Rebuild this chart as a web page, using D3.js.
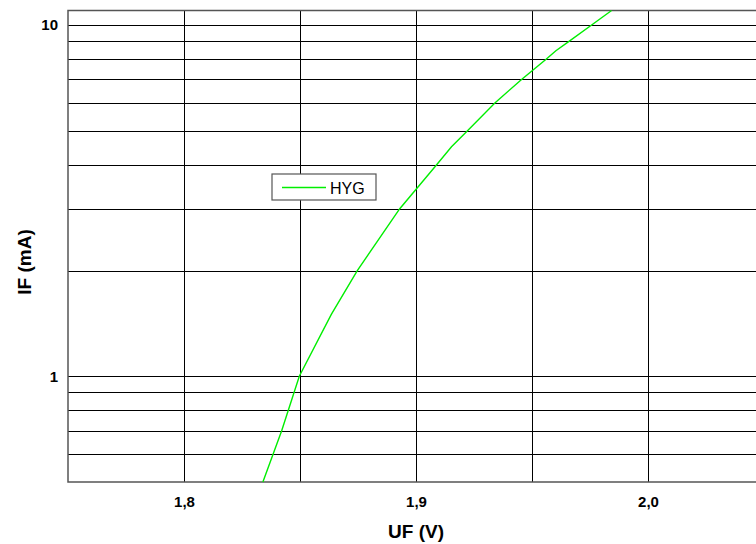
<!DOCTYPE html>
<html>
<head>
<meta charset="utf-8">
<script src="https://cdn.jsdelivr.net/npm/d3@7"></script>
<style>
  body { margin: 0; background: #fff; }
  svg { display: block; font-family: "Liberation Sans", Arial, Helvetica, sans-serif; }
</style>
</head>
<body>
<script>
// forward characteristic
var voltage = [1.834, 1.8421, 1.8497, 1.8635, 1.8747, 1.893, 1.9089, 1.9153, 1.9222, 1.934, 1.9455, 1.9562, 1.9603, 1.9661, 1.9757, 1.9843];
var current = [0.5, 0.7, 1, 1.5, 2, 3, 4, 4.5, 5, 6, 7, 8, 8.45, 9, 10, 11];
var seriesName = "HYG";

var xGrid = [1.8, 1.85, 1.9, 1.95, 2.0];
var xLabels = [1.8, 1.9, 2.0];
var yGrid = [0.6, 0.7, 0.8, 0.9, 1, 2, 3, 4, 5, 6, 7, 8, 9, 10];
var yLabels = [1, 10];

var margin = {top: 10.5, right: -8, bottom: 62, left: 68},
    width = 756 - margin.left - margin.right,
    height = 544 - margin.top - margin.bottom;

var svg = d3.select("body").append("svg")
    .attr("width", 756)
    .attr("height", 544);

var g = svg.append("g")
    .attr("transform", "translate(" + margin.left + "," + margin.top + ")");

var x = d3.scaleLinear().domain([1.75, 2.05]).range([0, width]);
var y = d3.scaleLog().domain([0.5, 11]).range([height, 0]);

var fmt = d3.formatLocale({decimal: ",", thousands: ".", grouping: [3], currency: ["", ""]}).format(".1f");

// x grid + labels
var xAxis = d3.axisBottom(x)
    .tickValues(xGrid)
    .tickSize(-height)
    .tickPadding(14)
    .tickFormat(function(d) {
      return xLabels.some(function(v) { return Math.abs(v - d) < 1e-9; }) ? fmt(d) : "";
    });

var gx = g.append("g")
    .attr("transform", "translate(0," + height + ")")
    .call(xAxis);

// y grid + labels
var yAxis = d3.axisLeft(y)
    .tickValues(yGrid)
    .tickSize(-width)
    .tickPadding(10)
    .tickFormat(function(d) { return yLabels.indexOf(d) >= 0 ? d : ""; });

var gy = g.append("g").call(yAxis);

[gx, gy].forEach(function(a) {
  a.select(".domain").remove();
  a.selectAll(".tick line")
    .attr("stroke", "#000")
    .attr("stroke-width", 1)
    .attr("shape-rendering", "crispEdges");
  a.selectAll(".tick text")
    .attr("fill", "#000")
    .style("font-size", "15px")
    .style("font-weight", "bold");
});

// frame
g.append("rect")
    .attr("x", 0).attr("y", 0)
    .attr("width", width).attr("height", height)
    .attr("fill", "none")
    .attr("stroke", "#555")
    .attr("stroke-width", 1.5);

// curve
var line = d3.line()
    .x(function(d) { return x(d[0]); })
    .y(function(d) { return y(d[1]); });

g.append("path")
    .datum(voltage.map(function(v, i) { return [v, current[i]]; }))
    .attr("fill", "none")
    .attr("stroke", "#00ee00")
    .attr("stroke-width", 1.4)
    .attr("d", line);

// axis titles
svg.append("text")
    .attr("x", margin.left + x(1.9))
    .attr("y", 538)
    .attr("text-anchor", "middle")
    .style("font-size", "19px")
    .style("font-weight", "bold")
    .text("UF (V)");

svg.append("text")
    .attr("transform", "translate(31," + 262 + ") rotate(-90)")
    .attr("text-anchor", "middle")
    .style("font-size", "19px")
    .style("font-weight", "bold")
    .text("IF (mA)");

// legend
var lg = svg.append("g").attr("transform", "translate(272,174)");
lg.append("rect")
    .attr("width", 104).attr("height", 26)
    .attr("fill", "#fff")
    .attr("stroke", "#555")
    .attr("stroke-width", 1.2);
lg.append("line")
    .attr("x1", 10).attr("x2", 54)
    .attr("y1", 13.5).attr("y2", 13.5)
    .attr("stroke", "#00ee00")
    .attr("stroke-width", 1.4);
lg.append("text")
    .attr("x", 58).attr("y", 19.5)
    .style("font-size", "16px")
    .text(seriesName);
</script>
</body>
</html>
